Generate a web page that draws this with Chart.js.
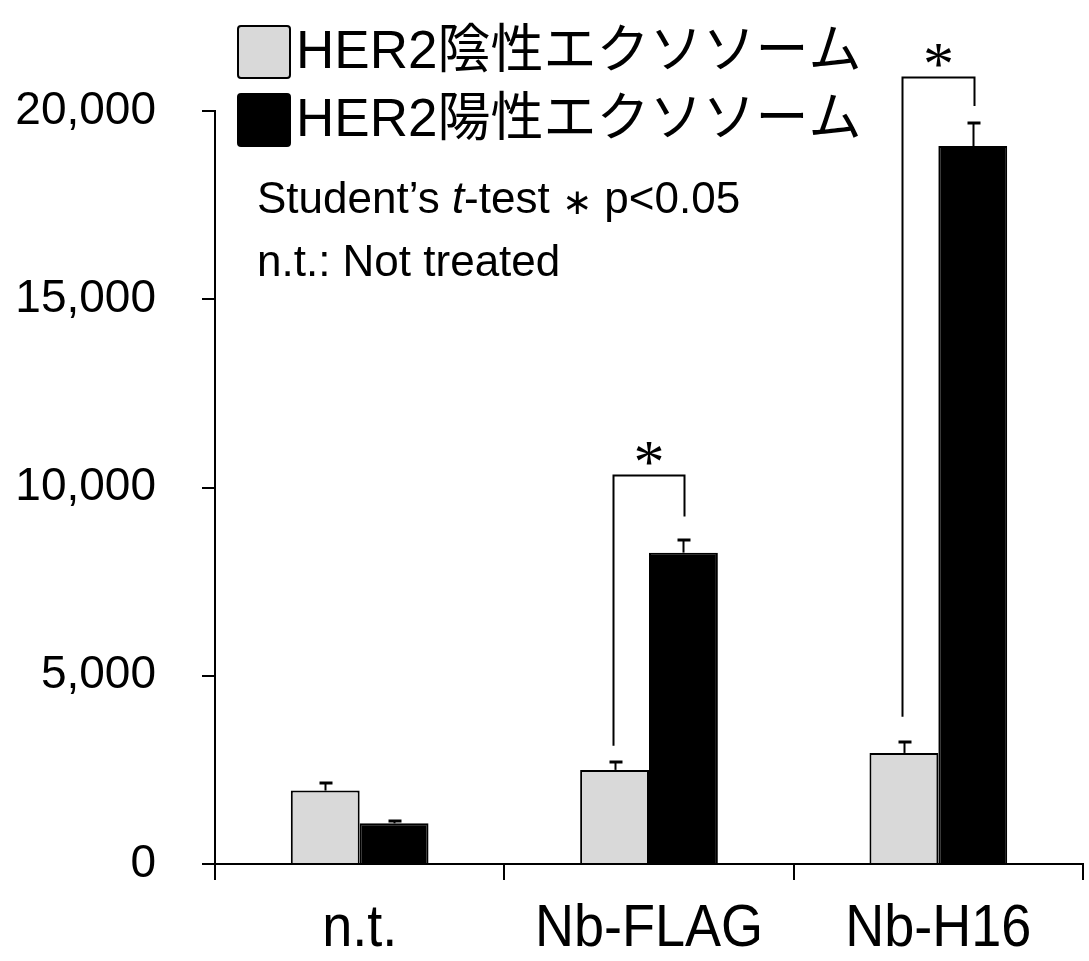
<!DOCTYPE html>
<html>
<head>
<meta charset="utf-8">
<script src="https://cdn.jsdelivr.net/npm/chart.js@4.4.1/dist/chart.umd.min.js"></script>
<style>
html,body{margin:0;padding:0;background:#fff;}
#wrap{width:1089px;height:961px;position:relative;}
</style>
</head>
<body>
<div id="wrap"><canvas id="c" width="1089" height="961"></canvas></div>
<script>
// ---- data ----
const categories = ['n.t.', 'Nb-FLAG', 'Nb-H16'];
const seriesNames = ['HER2陰性エクソソーム', 'HER2陽性エクソソーム'];
const negValues = [1950, 2500, 2950];
const negErrors = [190, 210, 290];
const posValues = [1080, 8270, 19070];
const posErrors = [70, 340, 600];
const yTicks = [0, 5000, 10000, 15000, 20000];
// significance brackets: category index, bracket top, left leg bottom, right leg bottom
const sigCategory = [1, 2];
const sigTop = [10320, 20900];
const sigLeftBottom = [3140, 3910];
const sigRightBottom = [9230, 20130];
const noteLine1 = ['Student’s ', 't', '-test ', '∗', ' p<0.05'];
const noteLine2 = 'n.t.: Not treated';

const GRAY = '#d9d9d9';
const LATIN = "'Liberation Sans', Arial, sans-serif";

const errorBars = {
  id: 'errorBars',
  afterDatasetsDraw(chart) {
    const ys = chart.scales.y;
    const ctx = chart.ctx;
    const errs = [negErrors, posErrors];
    const vals = [negValues, posValues];
    ctx.save();
    ctx.strokeStyle = '#000';
    [0, 1].forEach(d => {
      const meta = chart.getDatasetMeta(d);
      meta.data.forEach((el, i) => {
        const x = Math.round(el.x) + 0.5;
        const y0 = ys.getPixelForValue(vals[d][i]);
        const y1 = Math.round(ys.getPixelForValue(vals[d][i] + errs[d][i]));
        ctx.lineWidth = 2;
        ctx.beginPath();
        ctx.moveTo(x, y0);
        ctx.lineTo(x, y1);
        ctx.stroke();
        ctx.lineWidth = 3;
        ctx.beginPath();
        ctx.moveTo(x - 6, y1);
        ctx.lineTo(x + 7, y1);
        ctx.stroke();
      });
    });
    ctx.restore();
  }
};

const brackets = {
  id: 'brackets',
  afterDatasetsDraw(chart) {
    const ys = chart.scales.y;
    const ctx = chart.ctx;
    const m0 = chart.getDatasetMeta(0), m1 = chart.getDatasetMeta(1);
    ctx.save();
    ctx.strokeStyle = '#000';
    ctx.lineWidth = 2;
    sigCategory.forEach((c, k) => {
      const xl = Math.round(m0.data[c].x) - 1.5;
      const xr = Math.round(m1.data[c].x) + 1.5;
      const yt = Math.round(ys.getPixelForValue(sigTop[k])) + 0.5;
      ctx.beginPath();
      ctx.moveTo(xl, ys.getPixelForValue(sigLeftBottom[k]));
      ctx.lineTo(xl, yt);
      ctx.lineTo(xr, yt);
      ctx.lineTo(xr, ys.getPixelForValue(sigRightBottom[k]));
      ctx.stroke();
      ctx.fillStyle = '#000';
      ctx.font = "62px 'Liberation Serif', 'Times New Roman', serif";
      ctx.textAlign = 'center';
      ctx.textBaseline = 'alphabetic';
      ctx.fillText('*', (xl + xr) / 2, yt + 6);
    });
    ctx.restore();
  }
};

const xLabels = {
  id: 'xLabels',
  afterDraw(chart) {
    const xs = chart.scales.x;
    const ctx = chart.ctx;
    ctx.save();
    ctx.fillStyle = '#000';
    ctx.font = '60px ' + LATIN;
    ctx.textAlign = 'center';
    ctx.textBaseline = 'alphabetic';
    categories.forEach((lab, i) => {
      const x = xs.getPixelForTick(i);
      ctx.save();
      ctx.translate(x, 946);
      ctx.scale(0.9, 1);
      ctx.fillText(lab, 0, 0);
      ctx.restore();
    });
    ctx.restore();
  }
};

const overlay = {
  id: 'overlay',
  afterDraw(chart) {
    const ctx = chart.ctx;
    ctx.save();
    // legend
    const fills = [GRAY, '#000'];
    const boxY = [25, 93];
    const baseY = [68, 136];
    for (let i = 0; i < 2; i++) {
      ctx.beginPath();
      ctx.roundRect(238, boxY[i] + 1, 52, 52, 3);
      ctx.fillStyle = fills[i];
      ctx.fill();
      ctx.lineWidth = 2;
      ctx.strokeStyle = '#000';
      ctx.stroke();
      ctx.fillStyle = '#000';
      ctx.font = "53px 'Liberation Sans', 'Noto Sans CJK JP', sans-serif";
      ctx.textAlign = 'left';
      ctx.textBaseline = 'alphabetic';
      ctx.fillText(seriesNames[i], 296, baseY[i]);
    }
    // notes
    let x = 257;
    noteLine1.forEach((s, k) => {
      if (k === 1) ctx.font = 'italic 44px ' + LATIN;
      else if (k === 3) ctx.font = "36px 'DejaVu Sans', sans-serif";
      else ctx.font = '44px ' + LATIN;
      ctx.fillText(s, x, k === 3 ? 214 : 213);
      x += ctx.measureText(s).width;
    });
    ctx.font = '44px ' + LATIN;
    ctx.fillText(noteLine2, 257, 276);
    ctx.restore();
  }
};

new Chart(document.getElementById('c'), {
  type: 'bar',
  data: {
    labels: categories,
    datasets: [
      { label: seriesNames[0], data: negValues, backgroundColor: GRAY, borderColor: '#000', borderWidth: 2, borderSkipped: 'bottom' },
      { label: seriesNames[1], data: posValues, backgroundColor: '#000', borderColor: '#000', borderWidth: 2, borderSkipped: 'bottom' }
    ]
  },
  options: {
    responsive: false,
    animation: false,
    devicePixelRatio: 1,
    categoryPercentage: 0.476,
    barPercentage: 1.0,
    layout: { padding: { top: 111, right: 6, left: 0, bottom: 0 } },
    plugins: { legend: { display: false }, tooltip: { enabled: false }, title: { display: false } },
    scales: {
      x: {
        afterFit: s => { s.height = 97; },
        border: { color: '#000', width: 2 },
        grid: { offset: true, drawOnChartArea: false, drawTicks: true, tickLength: 16, color: '#000', lineWidth: 2 },
        ticks: { display: false }
      },
      y: {
        min: 0, max: 20000,
        afterFit: s => { s.width = 215; },
        afterBuildTicks: s => { s.ticks = yTicks.map(v => ({ value: v })); },
        border: { color: '#000', width: 2 },
        grid: { drawOnChartArea: false, drawTicks: true, tickLength: 13, color: '#000', lineWidth: 2 },
        ticks: { color: '#000', padding: 46, font: { family: LATIN, size: 46 }, callback: v => v.toLocaleString('en-US') }
      }
    }
  },
  plugins: [errorBars, brackets, xLabels, overlay]
});
</script>
</body>
</html>
